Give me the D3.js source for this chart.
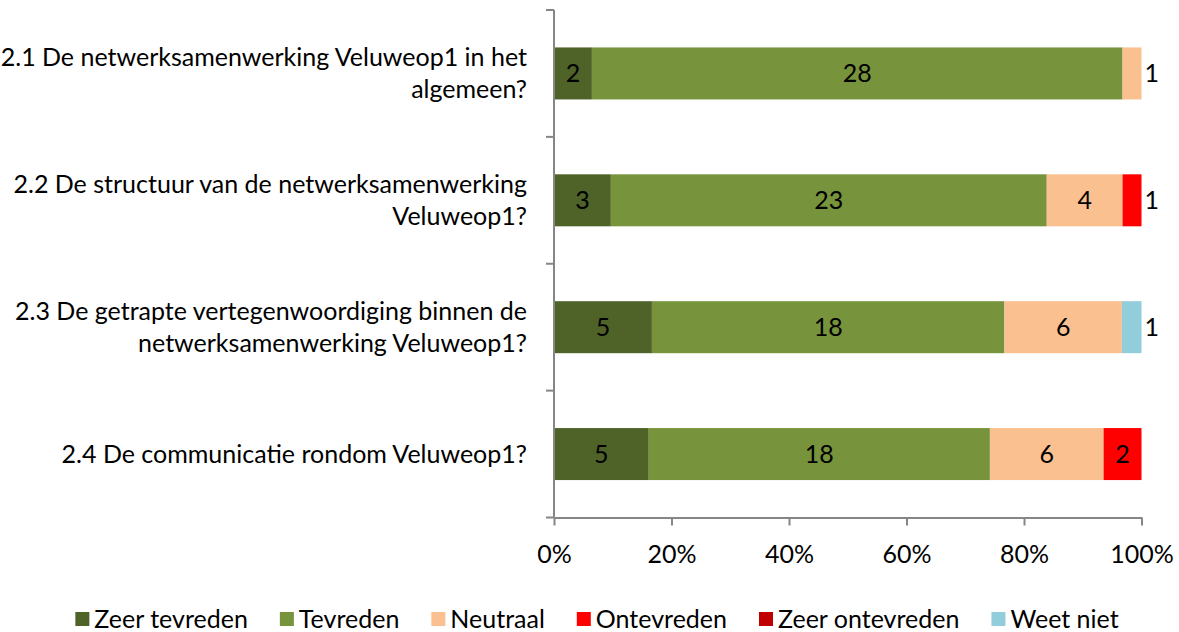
<!DOCTYPE html>
<html>
<head>
<meta charset="utf-8">
<script src="https://cdn.jsdelivr.net/npm/d3@7"></script>
<style>
  body { margin: 0; background: #fff; }
  svg text { font-family: Lato, "Open Sans", sans-serif; fill: #000; }
</style>
</head>
<body>
<svg id="chart" width="1179" height="632"></svg>
<script>
// categories (line breaks as in the original)
const categories = [
  "2.1 De netwerksamenwerking Veluweop1 in het\nalgemeen?",
  "2.2 De structuur van de netwerksamenwerking\nVeluweop1?",
  "2.3 De getrapte vertegenwoordiging binnen de\nnetwerksamenwerking Veluweop1?",
  "2.4 De communicatie rondom Veluweop1?"
];
const seriesNames = ["Zeer tevreden", "Tevreden", "Neutraal", "Ontevreden", "Zeer ontevreden", "Weet niet"];
const seriesColors = ["#4F6228", "#77933C", "#FAC090", "#FF0000", "#C00000", "#92CDDC"];
// counts per category, one array per series
const zeerTevreden   = [2, 3, 5, 5];
const tevreden       = [28, 23, 18, 18];
const neutraal       = [1, 4, 6, 6];
const ontevreden     = [0, 1, 0, 2];
const zeerOntevreden = [0, 0, 0, 0];
const weetNiet       = [0, 0, 1, 0];
const tickValues = [0, 0.2, 0.4, 0.6, 0.8, 1];

const allSeries = [zeerTevreden, tevreden, neutraal, ontevreden, zeerOntevreden, weetNiet];
const rows = categories.map((c, i) => {
  let r = {cat: c};
  seriesNames.forEach((s, j) => r[s] = allSeries[j][i]);
  return r;
});

const svg = d3.select("#chart");
const axisColor = "#868686";
const fontSize = 25;

let x = d3.scaleLinear().domain([0, 1]).range([554, 1141.5]);
let y = d3.scaleBand().domain(categories).range([10, 517.5]);
const barH = 52;

let color = d3.scaleOrdinal().domain(seriesNames).range(seriesColors);

let series = d3.stack()
  .keys(seriesNames)
  .offset(d3.stackOffsetExpand)(rows);

// bars
let groups = svg.append("g").selectAll("g")
  .data(series)
  .join("g")
  .attr("fill", d => color(d.key));

groups.selectAll("rect")
  .data(d => d.map(p => Object.assign(p, {key: d.key})))
  .join("rect")
  .filter(d => d[1] - d[0] > 0)
  .attr("x", d => x(d[0]))
  .attr("width", d => x(d[1]) - x(d[0]))
  .attr("y", d => y(d.data.cat) + (y.bandwidth() - barH) / 2)
  .attr("height", barH);

// data labels
let labels = [];
series.forEach(s => s.forEach(p => {
  let v = p.data[s.key];
  if (v > 0) labels.push({v: v, x0: x(p[0]), x1: x(p[1]), cat: p.data.cat});
}));
svg.append("g").selectAll("text")
  .data(labels)
  .join("text")
  .attr("x", d => (d.x1 - d.x0) < 25 ? d.x1 + 3 : (d.x0 + d.x1) / 2)
  .attr("text-anchor", d => (d.x1 - d.x0) < 25 ? "start" : "middle")
  .attr("y", d => y(d.cat) + y.bandwidth() / 2)
  .attr("dy", "0.36em")
  .style("font-size", fontSize + "px")
  .text(d => d.v);

// y axis: line plus ticks at category boundaries
let yAxisG = svg.append("g");
yAxisG.append("line")
  .attr("x1", x(0)).attr("x2", x(0))
  .attr("y1", y.range()[0]).attr("y2", y.range()[1])
  .attr("stroke", axisColor).attr("stroke-width", 2);
let bounds = categories.map(c => y(c)).concat([y.range()[1]]);
yAxisG.selectAll("line.tick")
  .data(bounds)
  .join("line")
  .attr("class", "tick")
  .attr("x1", x(0) - 8).attr("x2", x(0))
  .attr("y1", d => d).attr("y2", d => d)
  .attr("stroke", axisColor).attr("stroke-width", 2);

// category labels
let catLabels = svg.append("g").selectAll("text")
  .data(categories)
  .join("text")
  .attr("text-anchor", "end")
  .style("font-size", fontSize + "px");
catLabels.each(function(c) {
  let lines = c.split("\n");
  let cy = y(c) + y.bandwidth() / 2;
  let lh = 32;
  d3.select(this).selectAll("tspan")
    .data(lines)
    .join("tspan")
    .attr("x", 527)
    .attr("y", (d, i) => cy + (i - (lines.length - 1) / 2) * lh)
    .attr("dy", "0.36em")
    .text(d => d);
});

// x axis
let xAxisG = svg.append("g")
  .attr("transform", `translate(0,${y.range()[1]})`)
  .call(d3.axisBottom(x).tickValues(tickValues).tickFormat(d3.format(".0%")).tickSizeInner(8).tickSizeOuter(0));
xAxisG.select(".domain").attr("stroke", axisColor).attr("stroke-width", 2);
xAxisG.selectAll(".tick line").attr("stroke", axisColor).attr("stroke-width", 2);
xAxisG.selectAll(".tick text")
  .attr("y", 36)
  .attr("dy", "0.36em")
  .style("font-size", fontSize + "px")
  .style("font-family", "Lato, 'Open Sans', sans-serif")
  .attr("fill", "#000");

// legend
let legend = svg.append("g");
let items = legend.selectAll("g")
  .data(seriesNames)
  .join("g");
items.append("rect")
  .attr("width", 14).attr("height", 14)
  .attr("y", -7)
  .attr("fill", d => color(d));
items.append("text")
  .attr("x", 19)
  .attr("dy", "0.36em")
  .style("font-size", fontSize + "px")
  .text(d => d);
let xpos = 0;
items.each(function() {
  let w = 19 + d3.select(this).select("text").node().getComputedTextLength();
  d3.select(this).attr("transform", `translate(${xpos},0)`);
  xpos += w + 32;
});
let totalW = xpos - 32;
legend.attr("transform", `translate(${597 - totalW / 2},619)`);
</script>
</body>
</html>
